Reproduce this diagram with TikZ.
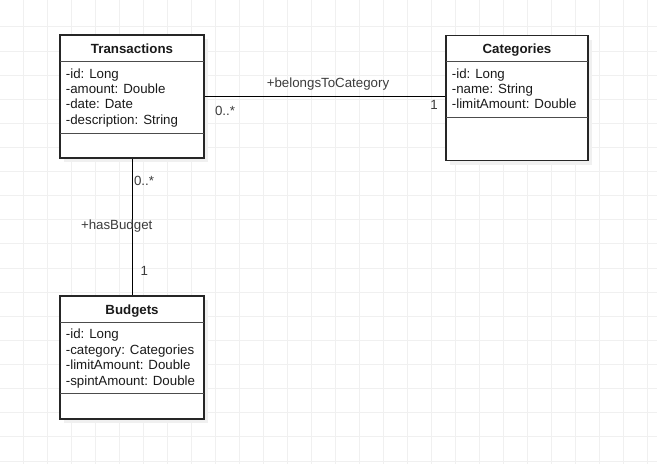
\documentclass[tikz,border=0pt]{standalone}
\usepackage{fontspec}
\setmainfont{Liberation Sans}
\usetikzlibrary{shadows}
\definecolor{gridc}{HTML}{F0F0F0}
\definecolor{txt}{HTML}{1A1A1A}
\tikzset{
  classbox/.style={draw=black!85, line width=1.1pt, fill=white, inner sep=0pt,
    drop shadow={shadow xshift=4pt, shadow yshift=-4pt, fill=black!6, opacity=1}},
  sepline/.style={draw=black!70, line width=1pt},
  attr/.style={anchor=base west, inner sep=0pt, font=\fontsize{13.3}{15}\selectfont, text=txt},
  title/.style={anchor=base, inner sep=0pt, font=\fontsize{13.3}{15}\selectfont\bfseries, text=txt},
  lbl/.style={anchor=base, inner sep=0pt, font=\fontsize{13.3}{15}\selectfont, text=txt!85},
  conn/.style={draw=black, line width=1pt}
}
\begin{document}
\begin{tikzpicture}[x=1pt,y=-1pt]
\useasboundingbox (0,0) rectangle (657,464);
\fill[white] (0,0) rectangle (657,464);
% grid
\foreach \i in {0,...,26} {
  \draw[gridc, line width=1pt] ({23.5+24*\i},0) -- ({23.5+24*\i},464);
}
\foreach \j in {0,...,18} {
  \draw[gridc, line width=1pt] (0,{26.9+24.12*\j}) -- (657,{26.9+24.12*\j});
}
% classes
\node[classbox, minimum width=144pt, minimum height=123pt] (trans) at (132,96.5) {};
\node[classbox, minimum width=142pt, minimum height=125pt] (cat) at (517,98.2) {};
\node[classbox, minimum width=144pt, minimum height=123pt] (budg) at (132,357.5) {};

% connectors
\draw[conn] (trans.east) -- (trans.east -| cat.west);
\draw[conn] (trans.south) -- (budg.north);

% Transactions content
\draw[sepline] (60,61) -- (204,61);
\draw[sepline] (60,133.3) -- (204,133.3);
\node[title] (transT) at (132,53) {Transactions};
\node[attr] (t1) at (65.7,78) {-id: Long};
\node[attr] (t2) at (65.7,93.3) {-amount: Double};
\node[attr] (t3) at (65.7,108.9) {-date: Date};
\node[attr] (t4) at (65.7,124.5) {-description: String};

% Categories content
\draw[sepline] (446,61.7) -- (588,61.7);
\draw[sepline] (446,117.7) -- (588,117.7);
\node[title] (catT) at (517,53) {Categories};
\node[attr] (c1) at (451.7,78) {-id: Long};
\node[attr] (c2) at (451.7,93.3) {-name: String};
\node[attr] (c3) at (451.7,108.9) {-limitAmount: Double};

% Budgets content
\draw[sepline] (60,322.7) -- (204,322.7);
\draw[sepline] (60,393.3) -- (204,393.3);
\node[title] (budT) at (132,314) {Budgets};
\node[attr] (b1) at (65.7,338.7) {-id: Long};
\node[attr] (b2) at (65.7,354) {-category: Categories};
\node[attr] (b3) at (65.7,369.6) {-limitAmount: Double};
\node[attr] (b4) at (65.7,385.2) {-spintAmount: Double};

% connector labels
\node[lbl] (l1) at (328,87.2) {+belongsToCategory};
\node[lbl] (l2) at (225,115.2) {0..*};
\node[lbl] (l3) at (434,109.8) {1};
\node[lbl] (l4) at (144,185.2) {0..*};
\node[lbl] (l5) at (116.7,229.5) {+hasBudget};
\node[lbl] (l6) at (144.3,275.2) {1};
\end{tikzpicture}
\end{document}
